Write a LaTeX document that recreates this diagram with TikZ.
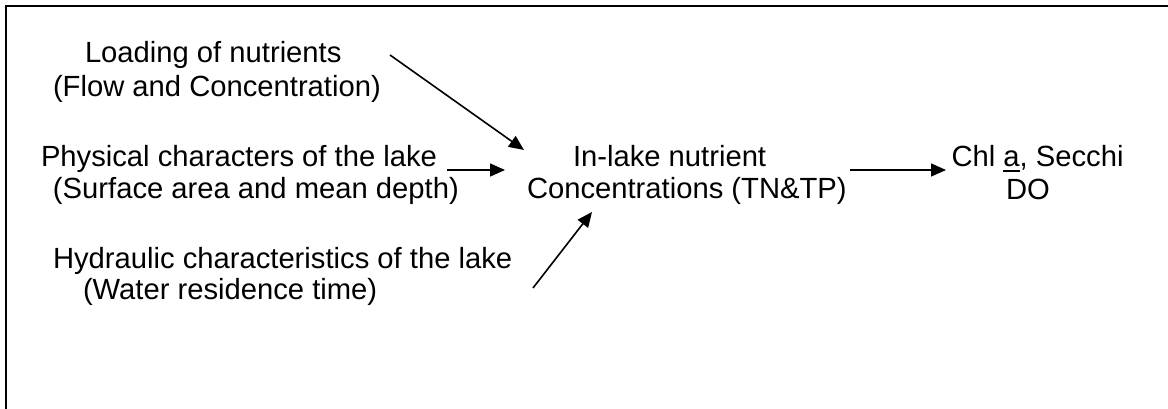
\documentclass[tikz,border=0pt]{standalone}
\usepackage{fontspec}
\setmainfont{Liberation Sans}
\usetikzlibrary{arrows.meta}
\newcommand\twolines[2]{\begin{tabular}[t]{@{}l@{}}#1\\#2\end{tabular}}
\newcommand\myul[1]{\setbox0\hbox{#1}\rlap{\rule[-5.5pt]{\wd0}{2pt}}\box0}
\tikzset{
  lbl/.style={anchor=base west, inner sep=0pt, outer sep=0pt},
  conn/.style={line width=1.6pt, -{Triangle[length=15pt,width=13pt]}},
  frame/.style={line width=2.4pt}
}
\begin{document}
\begin{tikzpicture}[x=1pt,y=-1pt]
\useasboundingbox (0,0) rectangle (1168,409);
\fill[white] (0,0) rectangle (1168,409);
\draw[frame] (6.2,415) -- (6.2,6.3) -- (1175,6.3);

\node[lbl, font=\fontsize{29.2}{34}\selectfont] (load) at (53,63)
  {\twolines{\hspace*{32pt}Loading of nutrients}{(Flow and Concentration)}};
\node[lbl, font=\fontsize{29.2}{32}\selectfont] (phys) at (41,167)
  {\twolines{Physical characters of the lake}{\hspace*{12pt}(Surface area and mean depth)}};
\node[lbl, font=\fontsize{29.2}{31}\selectfont] (hydr) at (53,268)
  {\twolines{Hydraulic characteristics of the lake}{\hspace*{30pt}(Water residence time)}};
\node[lbl, font=\fontsize{29.2}{32}\selectfont] (conc) at (527,167)
  {\twolines{\hspace*{46pt}In-lake nutrient}{Concentrations (TN\&TP)}};
\node[lbl, font=\fontsize{29.2}{33}\selectfont] (resp) at (951.5,167)
  {\twolines{Chl \myul{a}, Secchi}{\hspace*{54.5pt}DO}};

\coordinate (a1s) at (390,55);  \coordinate (a1e) at (524,150);
\coordinate (a2s) at (447,170); \coordinate (a2e) at (505,170);
\coordinate (a3s) at (533,288); \coordinate (a3e) at (592,212);
\coordinate (a4s) at (850,170); \coordinate (a4e) at (946,170);

\draw[conn] (a1s) -- (a1e);
\draw[conn] (a2s) -- (a2e);
\draw[conn] (a3s) -- (a3e);
\draw[conn] (a4s) -- (a4e);
\end{tikzpicture}
\end{document}
